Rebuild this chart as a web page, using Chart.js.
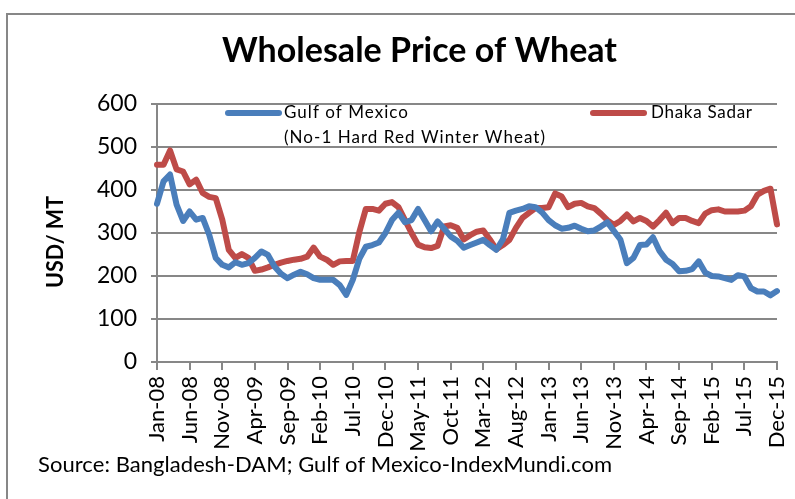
<!DOCTYPE html>
<html><head><meta charset="utf-8">
<script src="https://cdn.jsdelivr.net/npm/chart.js@4/dist/chart.umd.min.js"></script>
<style>html,body{margin:0;padding:0;background:#fff;overflow:hidden}canvas{display:block}</style>
</head><body><canvas id="c" width="795" height="499"></canvas>
<script>
const categories = [
'Jan-08','Feb-08','Mar-08','Apr-08','May-08','Jun-08','Jul-08','Aug-08','Sep-08','Oct-08','Nov-08','Dec-08',
'Jan-09','Feb-09','Mar-09','Apr-09','May-09','Jun-09','Jul-09','Aug-09','Sep-09','Oct-09','Nov-09','Dec-09',
'Jan-10','Feb-10','Mar-10','Apr-10','May-10','Jun-10','Jul-10','Aug-10','Sep-10','Oct-10','Nov-10','Dec-10',
'Jan-11','Feb-11','Mar-11','Apr-11','May-11','Jun-11','Jul-11','Aug-11','Sep-11','Oct-11','Nov-11','Dec-11',
'Jan-12','Feb-12','Mar-12','Apr-12','May-12','Jun-12','Jul-12','Aug-12','Sep-12','Oct-12','Nov-12','Dec-12',
'Jan-13','Feb-13','Mar-13','Apr-13','May-13','Jun-13','Jul-13','Aug-13','Sep-13','Oct-13','Nov-13','Dec-13',
'Jan-14','Feb-14','Mar-14','Apr-14','May-14','Jun-14','Jul-14','Aug-14','Sep-14','Oct-14','Nov-14','Dec-14',
'Jan-15','Feb-15','Mar-15','Apr-15','May-15','Jun-15','Jul-15','Aug-15','Sep-15','Oct-15','Nov-15','Dec-15'];

const gulfOfMexico = [368,420,436,366,328,350,331,335,296,242,
226,220,232,226,230,242,257,249,222,205,
195,203,210,204,195,191,191,191,179,156,
191,240,268,272,278,300,330,347,325,330,
356,330,304,327,310,292,282,266,272,278,
284,272,261,285,347,352,356,362,360,348,
330,318,310,312,317,310,304,306,315,325,
305,285,230,242,272,273,290,258,238,228,
211,212,216,234,208,200,199,195,191,202,
199,172,164,164,155,165];

const dhakaSadar = [459,459,492,448,443,413,424,393,384,381,
331,261,242,251,242,212,215,220,226,231,
235,238,240,245,266,245,238,226,234,235,
235,302,356,356,352,368,372,360,330,300,
273,267,265,270,315,318,312,285,295,303,
306,285,262,272,284,312,335,347,358,358,
360,392,385,360,368,370,362,358,345,330,
319,328,343,327,335,328,315,330,347,323,
335,335,328,323,345,353,355,350,350,350,
352,362,389,398,403,320];

const yTickValues = [0,100,200,300,400,500,600];
const chartTitle = 'Wholesale Price of Wheat';
const yAxisTitle = 'USD/ MT';
const gulfLegend = ['Gulf of Mexico', '(No-1 Hard Red Winter Wheat)'];
const dhakaLegend = 'Dhaka Sadar';
const sourceNote = 'Source: Bangladesh-DAM; Gulf of Mexico-IndexMundi.com';

const BLUE = '#4A7EBB', RED = '#BE4B48', GRID = '#878787';
const FONT = 'Lato, "Open Sans", sans-serif';

function fitText(ctx, text, x, y, target) {
  ctx.letterSpacing = '0px';
  const w = ctx.measureText(text).width;
  if (target && text.length > 1) {
    const ls = (target - w) / (text.length - 1);
    if (ls > 0) { ctx.letterSpacing = ls + 'px'; ctx.fillText(text, x, y); }
    else ctx.fillText(text, x, y, target);
  } else ctx.fillText(text, x, y);
  ctx.letterSpacing = '0px';
}

const decor = {
  id: 'decor',
  beforeDraw(chart) {
    const ctx = chart.ctx;
    ctx.save();
    ctx.fillStyle = '#fff';
    ctx.fillRect(0, 0, chart.width, chart.height);
    ctx.strokeStyle = GRID; ctx.lineWidth = 2;
    ctx.strokeRect(7, 14, 900, 600);
    ctx.restore();
  },
  afterDraw(chart) {
    const ctx = chart.ctx;
    ctx.save();
    ctx.fillStyle = '#000';
    ctx.textAlign = 'left';
    ctx.textBaseline = 'alphabetic';
    ctx.font = 'bold 34px ' + FONT;
    fitText(ctx, chartTitle, 222, 62, 395);
    // y axis title
    ctx.save();
    ctx.translate(63, 242);
    ctx.rotate(-Math.PI / 2);
    ctx.font = 'bold 22px ' + FONT;
    fitText(ctx, yAxisTitle, -46, 0, 92);
    ctx.restore();
    // legend
    ctx.lineCap = 'round'; ctx.lineWidth = 6;
    ctx.strokeStyle = BLUE;
    ctx.beginPath(); ctx.moveTo(228, 113); ctx.lineTo(279, 113); ctx.stroke();
    ctx.strokeStyle = RED;
    ctx.beginPath(); ctx.moveTo(593, 113); ctx.lineTo(644, 113); ctx.stroke();
    ctx.font = '17px ' + FONT;
    ctx.textBaseline = 'middle';
    fitText(ctx, gulfLegend[0], 284, 113, 124);
    fitText(ctx, gulfLegend[1], 284, 138, 261);
    fitText(ctx, dhakaLegend, 651, 113, 101);
    // source
    ctx.font = '22px ' + FONT;
    fitText(ctx, sourceNote, 38, 465, 574);
    ctx.restore();
  }
};

new Chart(document.getElementById('c'), {
  type: 'line',
  data: {
    labels: categories,
    datasets: [
      { label: gulfLegend.join(' '), data: gulfOfMexico, borderColor: BLUE, borderWidth: 6, pointRadius: 0, tension: 0, borderJoinStyle: 'round', borderCapStyle: 'round', fill: false },
      { label: dhakaLegend, data: dhakaSadar, borderColor: RED, borderWidth: 6, pointRadius: 0, tension: 0, borderJoinStyle: 'round', borderCapStyle: 'round', fill: false }
    ]
  },
  options: {
    responsive: false,
    devicePixelRatio: 1,
    animation: false,
    layout: { padding: { top: 104, right: 18, bottom: 0, left: 0 } },
    plugins: { legend: { display: false }, title: { display: false }, tooltip: { enabled: false } },
    scales: {
      x: {
        type: 'category',
        offset: false,
        grid: {
          display: true, drawOnChartArea: false, drawTicks: true, tickLength: 8, lineWidth: 2,
          tickColor: (c) => (c.index % 5 === 0 ? GRID : 'rgba(0,0,0,0)')
        },
        border: { display: true, color: GRID, width: 2 },
        ticks: {
          autoSkip: false, maxRotation: 90, minRotation: 90, padding: 6,
          font: { family: FONT, size: 22 }, color: '#000',
          callback: (v, i) => (i % 5 === 0 ? categories[i] : '')
        },
        afterFit: (s) => { s.height = 137; s.paddingLeft = 0; s.paddingRight = 0; }
      },
      y: {
        min: 0, max: 600,
        afterBuildTicks: (s) => { s.ticks = yTickValues.map(v => ({ value: v })); },
        grid: { color: GRID, lineWidth: 2, tickLength: 6, drawTicks: true, tickColor: GRID },
        border: { display: true, color: GRID, width: 2 },
        ticks: { font: { family: FONT, size: 23 }, color: '#000', padding: 14 },
        afterFit: (s) => { s.width = 157; s.paddingTop = 0; s.paddingBottom = 0; }
      }
    }
  },
  plugins: [decor]
});
</script>
</body></html>
